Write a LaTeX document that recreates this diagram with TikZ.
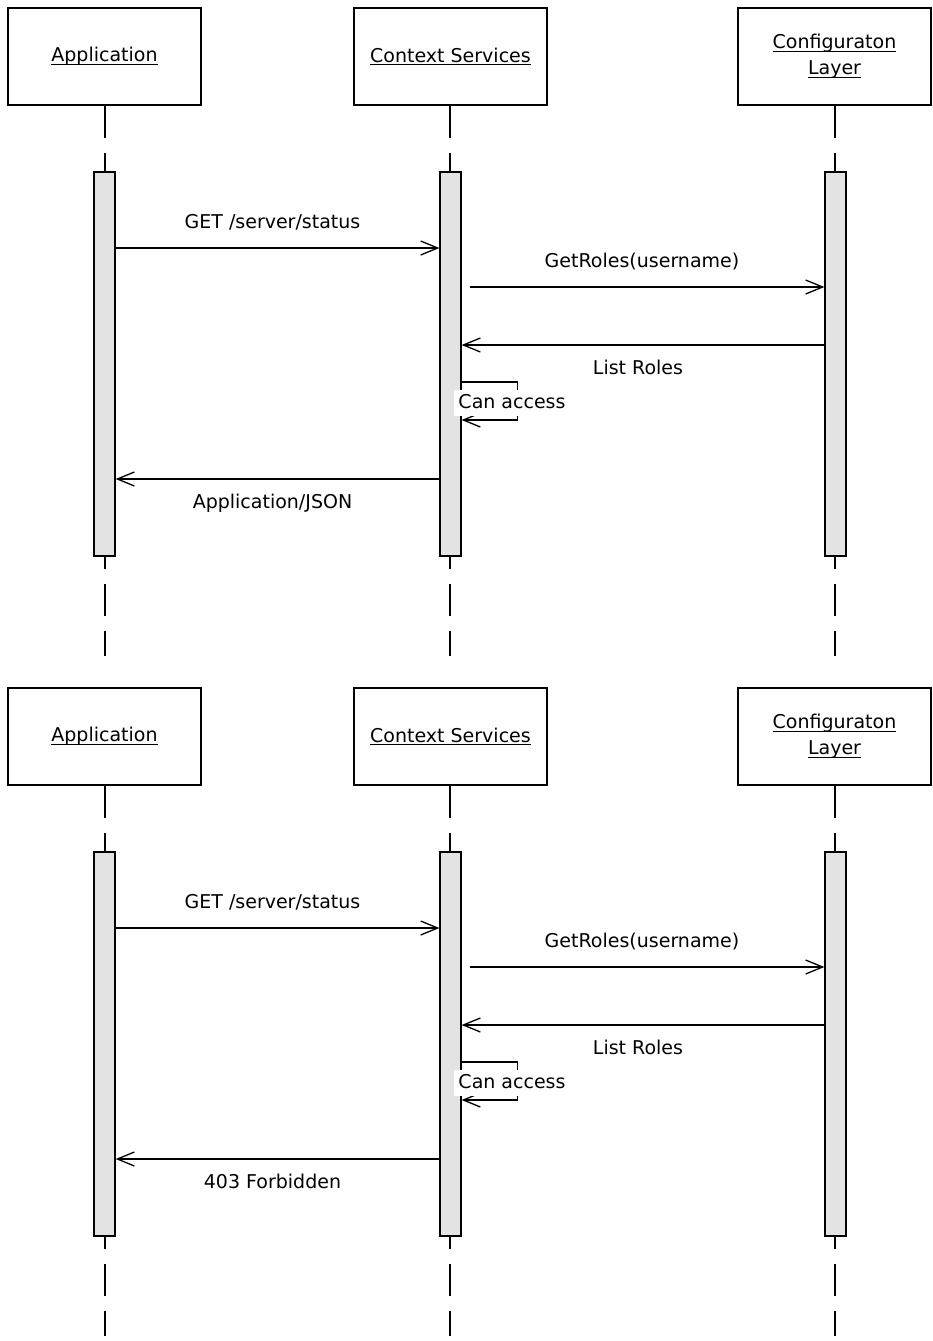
\documentclass[tikz,border=0pt]{standalone}
\usepackage{fontspec}
\setmainfont{DejaVu Sans}
\usepackage{tikz}
\usetikzlibrary{arrows.meta,positioning,calc}

\newcommand{\ulabel}[1]{\leavevmode\setbox0=\hbox{#1}\rlap{\rule[-3pt]{\wd0}{1.2pt}}\box0}

\begin{document}
\begin{tikzpicture}[
    x=1pt, y=-1pt,
    head/.style={rectangle, draw, line width=1.3pt, minimum width=193pt, minimum height=97pt, align=center, font=\fontsize{19}{26}\selectfont},
    bar/.style={rectangle, draw, line width=1.3pt, fill=black!11, minimum width=21pt, minimum height=384pt, inner sep=0pt},
    life/.style={line width=1.3pt, dash pattern=on 32.8pt off 15pt},
    msg/.style={-{Straight Barb[length=17pt, width=14pt]}, line width=1.3pt},
    lbl/.style={font=\fontsize{19}{26}\selectfont, inner sep=0pt, text height=14pt, text depth=4pt},
    lblabove/.style={lbl, midway, above=15pt, xshift=-5pt},
    lblbelow/.style={lbl, midway, below=15pt, xshift=-5pt},
    selflbl/.style={lbl, fill=white, inner sep=4pt}
]
    \useasboundingbox (0,0) rectangle (933,1341);

    % Top diagram: heads
    \node[head] (app1) at (104.5,56.5) {\ulabel{Application}};
    \node[head] (ctx1) at (450.5,56.5) {\ulabel{Context Services}};
    \node[head] (cfg1) at (834.5,56.5) {\ulabel{Configuraton}\\\ulabel{Layer}};

    % Lifelines
    \coordinate (app1end) at (105,656);
    \coordinate (ctx1end) at (450,656);
    \coordinate (cfg1end) at (835,656);
    \draw[life] (app1end |- app1.south) -- (app1end);
    \draw[life] (ctx1end |- ctx1.south) -- (ctx1end);
    \draw[life] (cfg1end |- cfg1.south) -- (cfg1end);

    % Activations
    \node[bar] (app1bar) at (104.5,364) {};
    \node[bar] (ctx1bar) at (450.5,364) {};
    \node[bar] (cfg1bar) at (835.5,364) {};

    % Messages
    \draw[msg] (app1bar.east |- 0,248) -- (ctx1bar.west |- 0,248) node[lblabove] {GET /server/status};
    \draw[msg] ($(ctx1bar.east |- 0,287)+(8,0)$) -- (cfg1bar.west |- 0,287) node[lblabove] {GetRoles(username)};
    \draw[msg] (cfg1bar.west |- 0,345) -- (ctx1bar.east |- 0,345) node[lblbelow] {List Roles};
    \draw[msg] (ctx1bar.east |- 0,382) -- ++(56,0) -- ++(0,38) -- (ctx1bar.east |- 0,420);
    \node[selflbl] (self1) at (512,403) {Can access};
    \draw[msg] (ctx1bar.west |- 0,479) -- (app1bar.east |- 0,479) node[lblbelow] {Application/JSON};

    % Bottom diagram: heads
    \node[head] (app2) at (104.5,736.5) {\ulabel{Application}};
    \node[head] (ctx2) at (450.5,736.5) {\ulabel{Context Services}};
    \node[head] (cfg2) at (834.5,736.5) {\ulabel{Configuraton}\\\ulabel{Layer}};

    % Lifelines
    \coordinate (app2end) at (105,1336);
    \coordinate (ctx2end) at (450,1336);
    \coordinate (cfg2end) at (835,1336);
    \draw[life] (app2end |- app2.south) -- (app2end);
    \draw[life] (ctx2end |- ctx2.south) -- (ctx2end);
    \draw[life] (cfg2end |- cfg2.south) -- (cfg2end);

    % Activations
    \node[bar] (app2bar) at (104.5,1044) {};
    \node[bar] (ctx2bar) at (450.5,1044) {};
    \node[bar] (cfg2bar) at (835.5,1044) {};

    % Messages
    \draw[msg] (app2bar.east |- 0,928) -- (ctx2bar.west |- 0,928) node[lblabove] {GET /server/status};
    \draw[msg] ($(ctx2bar.east |- 0,967)+(8,0)$) -- (cfg2bar.west |- 0,967) node[lblabove] {GetRoles(username)};
    \draw[msg] (cfg2bar.west |- 0,1025) -- (ctx2bar.east |- 0,1025) node[lblbelow] {List Roles};
    \draw[msg] (ctx2bar.east |- 0,1062) -- ++(56,0) -- ++(0,38) -- (ctx2bar.east |- 0,1100);
    \node[selflbl] (self2) at (512,1083) {Can access};
    \draw[msg] (ctx2bar.west |- 0,1159) -- (app2bar.east |- 0,1159) node[lblbelow] {403 Forbidden};
\end{tikzpicture}
\end{document}
